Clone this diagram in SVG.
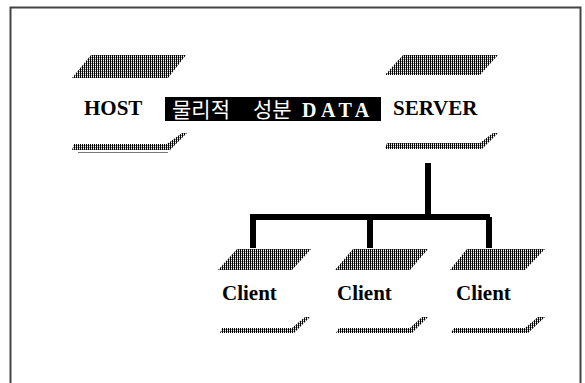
<svg xmlns="http://www.w3.org/2000/svg" width="585" height="383" viewBox="0 0 585 383">
<defs>
<pattern id="hatch" width="2" height="2" patternUnits="userSpaceOnUse">
<rect x="0" y="0" width="1" height="2" fill="#000"/>
<rect x="1" y="1" width="1" height="1" fill="#888"/>
</pattern>
</defs>
<style>
.plate{fill:url(#hatch);}
.edge{fill:url(#hatch);}
.lbl{font-family:"Liberation Serif","Times New Roman",serif;font-weight:bold;font-size:21px;fill:#000;}
.kor{font-family:"Noto Sans CJK KR","Noto Sans",sans-serif;font-size:21px;fill:#fff;}
.data{font-family:"Liberation Serif","Times New Roman",serif;font-weight:bold;font-size:20px;letter-spacing:4.5px;fill:#fff;}
.wire{stroke:#000;stroke-width:6;fill:none;}
</style>
<rect x="0" y="0" width="585" height="383" fill="#fff"/>
<rect x="10.5" y="7.5" width="570" height="390" fill="none" stroke="#444" stroke-width="2"/>

<g id="connectors">
<path class="wire" d="M428,163 V217 M253,248 V217 H490 M370,217 V248 M489,217 V248"/>
</g>

<g id="host">
<polygon class="plate" points="91,55 186,55 168,78 72,78"/>
<text class="lbl" x="84" y="115">HOST</text>
<polygon class="edge" points="74,144 167,144 182,133 187,133 170,150 72,150"/>
<line x1="78" y1="152.5" x2="168" y2="152.5" stroke="#777" stroke-width="1"/>
</g>

<g id="data">
<rect x="165" y="97" width="216" height="24" fill="#000"/>
<text class="kor" x="172" y="117">물리적</text>
<text class="kor" x="253" y="117">성분</text>
<text class="data" x="302" y="117">DATA</text>
</g>

<g id="server">
<polygon class="plate" points="403,55 498,55 480,75 385,75"/>
<text class="lbl" x="393" y="115">SERVER</text>
<polygon class="edge" points="387,143 480,143 493,133 498,133 482,149 385,149"/>
</g>

<g id="client1">
<polygon class="plate" points="237,249 311,249 292,270 218,270"/>
<text class="lbl" x="222" y="300">Client</text>
<polygon class="edge" points="222,328 292,328 305,317 310,317 294,333 220,333"/>
</g>

<g id="client2">
<polygon class="plate" points="353,249 428,249 410,270 335,270"/>
<text class="lbl" x="337" y="300">Client</text>
<polygon class="edge" points="339,328 410,328 422,317 428,317 412,333 336,333"/>
</g>

<g id="client3">
<polygon class="plate" points="467,249 545,249 525,270 450,270"/>
<text class="lbl" x="456" y="300">Client</text>
<polygon class="edge" points="454,328 525,328 538,317 545,317 528,333 451,333"/>
</g>
</svg>
